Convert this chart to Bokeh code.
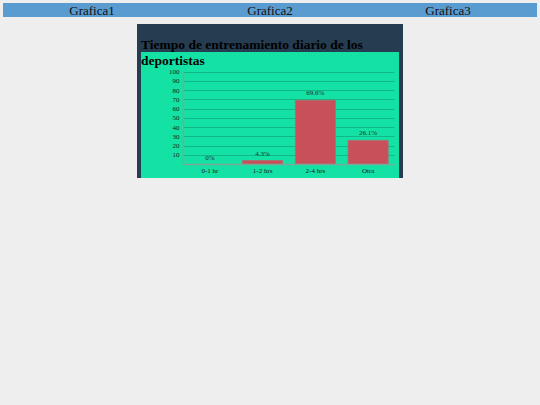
from bokeh.plotting import figure
from bokeh.models import (ColumnDataSource, LabelSet, FixedTicker, Div, Spacer,
                          GlobalInlineStyleSheet, Range1d, FactorRange)
from bokeh.layouts import column, row
from bokeh.embed import file_html
from bokeh.resources import INLINE

# ---- data ----
categories = ["0-1 hr", "1-2 hrs", "2-4 hrs", "Otra"]
values = [0, 4.3, 69.6, 26.1]
value_labels = ["0%", "4.3%", "69.6%", "26.1%"]
y_ticks = [10, 20, 30, 40, 50, 60, 70, 80, 90, 100]
nav_items = ["Grafica1", "Grafica2", "Grafica3"]
title_text = "Tiempo de entrenamiento diario de los deportistas"

PAGE_BG = "#eeeeee"
NAV_BG = "#5a9bd0"
DARK = "#253c51"
GREEN = "#14e2a5"
BAR = "#c8505a"
SERIF = "Liberation Serif"

page_css = GlobalInlineStyleSheet(css=f"body {{ background-color: {PAGE_BG}; }}")

# ---- nav bar ----
spans = "".join(
    f"<div style='flex:1;text-align:center;'>{t}</div>" for t in nav_items
)
nav = Div(
    text=f"<div style=\"display:flex;width:534px;font-family:'{SERIF}';font-size:13px;"
         f"line-height:14px;color:#111;\">{spans}</div>",
    width=534, height=14, margin=0,
    styles={"background-color": NAV_BG},
)

# ---- title ----
title_div = Div(
    text=f"<div style=\"font-family:'{SERIF}';font-weight:bold;font-size:13.5px;"
         f"line-height:15.5px;color:#000;padding-top:13px;\">{title_text}</div>",
    width=258, height=44, margin=0,
    styles={"background": f"linear-gradient(to bottom, {DARK} 0px, {DARK} 28px, {GREEN} 28px, {GREEN} 100%)"},
)

# ---- chart ----
src = ColumnDataSource(dict(cat=categories, val=values, lab=value_labels))

p = figure(
    x_range=FactorRange(*categories, range_padding=0),
    y_range=Range1d(0, 100.8),
    width=258, height=109,
    output_backend="svg", toolbar_location=None,
    background_fill_color=GREEN, border_fill_color=GREEN,
    min_border_top=3, min_border_left=42, min_border_right=5, min_border_bottom=8,
)
p.outline_line_color = None

p.vbar(x="cat", top="val", width=0.76, source=src,
       fill_color=BAR, line_color="#b4686c", line_width=0.8)

p.add_layout(LabelSet(x="cat", y="val", text="lab", source=src,
                      text_align="center", text_baseline="bottom", y_offset=3,
                      text_font=SERIF, text_font_size="7px", text_color="#1e2e2a"))

p.yaxis.ticker = FixedTicker(ticks=y_ticks)
p.ygrid.ticker = FixedTicker(ticks=y_ticks)
p.xgrid.visible = False
p.ygrid.grid_line_color = "#10b889"
p.ygrid.grid_line_width = 1

for ax in (p.xaxis, p.yaxis):
    ax.axis_line_color = "#7aa898"
    ax.axis_line_width = 1.5
    ax.major_tick_line_color = None
    ax.minor_tick_line_color = None
    ax.major_tick_out = 0
    ax.major_tick_in = 0
    ax.major_label_text_font = SERIF
    ax.major_label_text_font_size = "7px"
    ax.major_label_text_color = "#1a1a1a"
p.yaxis.major_label_standoff = 4
p.xaxis.major_label_standoff = 2

inner = column(title_div, p, Spacer(height=1), spacing=0,
               styles={"background-color": GREEN})
panel = row(
    Spacer(width=4), inner, Spacer(width=4),
    spacing=0,
    styles={"background-color": DARK},
)

layout = column(
    Spacer(height=3),
    row(Spacer(width=3), nav, spacing=0),
    Spacer(height=7),
    row(Spacer(width=137), panel, spacing=0),
    spacing=0,
    stylesheets=[page_css],
)

open("out.html", "w").write(file_html(layout, INLINE))
